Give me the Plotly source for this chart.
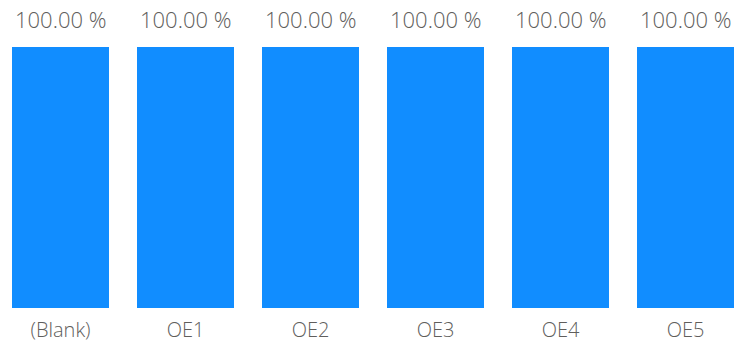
import plotly.graph_objects as go

# data
categories = ["(Blank)", "OE1", "OE2", "OE3", "OE4", "OE5"]
values = [100.0, 100.0, 100.0, 100.0, 100.0, 100.0]
labels = ["%.2f %%" % v for v in values]

bar_color = "#118DFF"
text_color = "#605E5C"
font_family = "Open Sans, Noto Sans, sans-serif"

fig = go.Figure()
fig.add_trace(go.Bar(
    x=categories, y=values,
    marker=dict(color=bar_color, line=dict(width=0)),
    hoverinfo="skip", showlegend=False,
))

for c, v, t in zip(categories, values, labels):
    fig.add_annotation(
        x=c, y=v, text=t, showarrow=False,
        yanchor="bottom", yshift=11,
        font=dict(family=font_family, size=22, color=text_color, weight=300),
    )

fig.update_layout(
    width=735, height=347,
    margin=dict(l=0, r=0, t=47, b=39),
    paper_bgcolor="white", plot_bgcolor="white",
    bargap=0.224,
    font=dict(family=font_family, color=text_color),
)
fig.update_xaxes(
    range=[-0.484, 5.396], showgrid=False, zeroline=False, showline=False,
    ticks="", ticklabelstandoff=8,
    tickfont=dict(family=font_family, size=20, color=text_color, weight=300),
)
fig.update_yaxes(range=[0, 100], visible=False, showgrid=False, zeroline=False)

# drop the default 8px body margin so the figure sits at the page corner
fig.write_html("out.html", config={"displayModeBar": False},
               post_script="document.body.style.margin='0';")
